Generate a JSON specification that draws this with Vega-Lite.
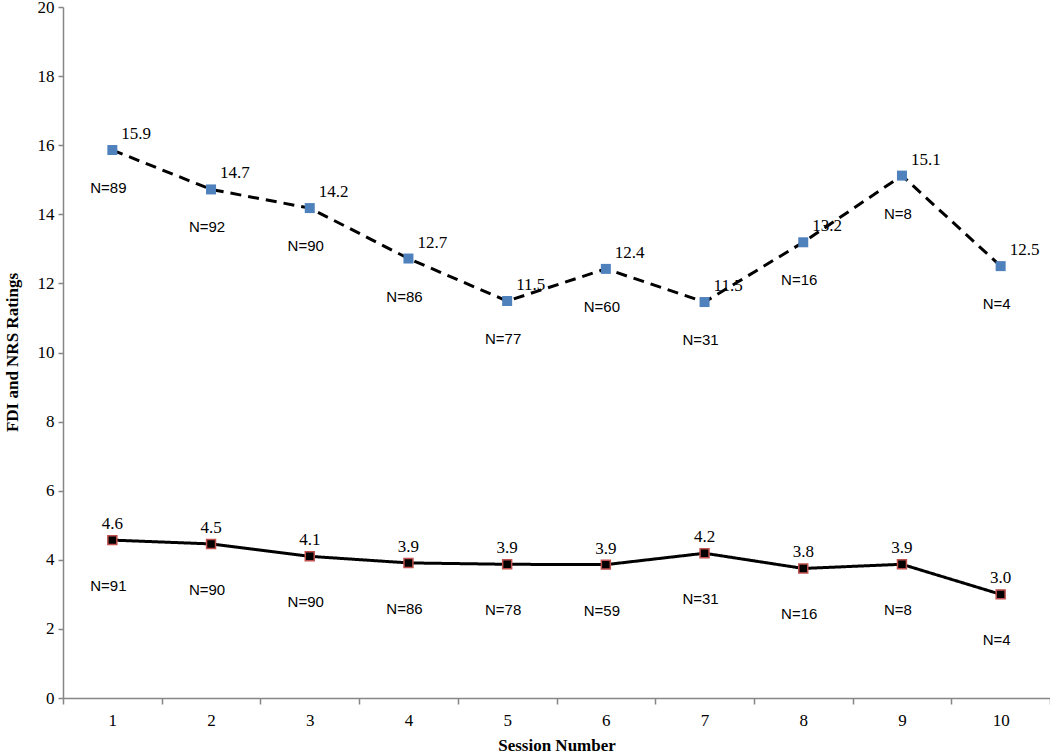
{
  "$schema": "https://vega.github.io/schema/vega-lite/v6.json",
  "autosize": "none",
  "width": 987,
  "height": 691,
  "padding": {"left": 63, "top": 7, "right": 0, "bottom": 56},
  "background": "white",
  "config": {
    "view": {"stroke": null},
    "axis": {
      "grid": false,
      "domainColor": "#868686",
      "domainWidth": 1.5,
      "tickColor": "#868686",
      "tickWidth": 1.5,
      "labelFont": "Liberation Serif",
      "labelFontSize": 17,
      "labelColor": "#000000",
      "titleFont": "Liberation Serif",
      "titleFontSize": 17,
      "titleFontWeight": "bold",
      "titleColor": "#000000"
    }
  },
  "data": {
    "values": [
      {"session": 1, "series": "FDI", "value": 15.86, "label": "15.9", "n": "N=89"},
      {"session": 2, "series": "FDI", "value": 14.72, "label": "14.7", "n": "N=92"},
      {"session": 3, "series": "FDI", "value": 14.18, "label": "14.2", "n": "N=90"},
      {"session": 4, "series": "FDI", "value": 12.72, "label": "12.7", "n": "N=86"},
      {"session": 5, "series": "FDI", "value": 11.49, "label": "11.5", "n": "N=77"},
      {"session": 6, "series": "FDI", "value": 12.42, "label": "12.4", "n": "N=60"},
      {"session": 7, "series": "FDI", "value": 11.46, "label": "11.5", "n": "N=31"},
      {"session": 8, "series": "FDI", "value": 13.19, "label": "13.2", "n": "N=16"},
      {"session": 9, "series": "FDI", "value": 15.12, "label": "15.1", "n": "N=8"},
      {"session": 10, "series": "FDI", "value": 12.5, "label": "12.5", "n": "N=4"},
      {"session": 1, "series": "NRS", "value": 4.57, "label": "4.6", "n": "N=91"},
      {"session": 2, "series": "NRS", "value": 4.46, "label": "4.5", "n": "N=90"},
      {"session": 3, "series": "NRS", "value": 4.1, "label": "4.1", "n": "N=90"},
      {"session": 4, "series": "NRS", "value": 3.91, "label": "3.9", "n": "N=86"},
      {"session": 5, "series": "NRS", "value": 3.87, "label": "3.9", "n": "N=78"},
      {"session": 6, "series": "NRS", "value": 3.86, "label": "3.9", "n": "N=59"},
      {"session": 7, "series": "NRS", "value": 4.19, "label": "4.2", "n": "N=31"},
      {"session": 8, "series": "NRS", "value": 3.75, "label": "3.8", "n": "N=16"},
      {"session": 9, "series": "NRS", "value": 3.87, "label": "3.9", "n": "N=8"},
      {"session": 10, "series": "NRS", "value": 3.0, "label": "3.0", "n": "N=4"}
    ]
  },
  "encoding": {
    "x": {
      "field": "session",
      "type": "ordinal",
      "scale": {"paddingInner": 0, "paddingOuter": 0},
      "axis": {
        "title": "Session Number",
        "labelAngle": 0,
        "tickBand": "extent",
        "tickSize": 6,
        "labelPadding": 8,
        "titleY": 47,
        "titleBaseline": "middle"
      }
    },
    "y": {
      "field": "value",
      "type": "quantitative",
      "scale": {"domain": [0, 20], "nice": false},
      "axis": {
        "title": "FDI and NRS Ratings",
        "values": [0, 2, 4, 6, 8, 10, 12, 14, 16, 18, 20],
        "tickSize": 5,
        "labelPadding": 4,
        "titleX": -51,
        "titleY": 345,
        "titleAngle": -90,
        "titleAlign": "center",
        "titleBaseline": "middle"
      }
    }
  },
  "layer": [
    {
      "mark": {"type": "line", "color": "#000000", "strokeWidth": 3},
      "encoding": {
        "detail": {"field": "series"},
        "strokeDash": {
          "field": "series",
          "type": "nominal",
          "scale": {"domain": ["FDI", "NRS"], "range": [[11, 7], [1, 0]]},
          "legend": null
        }
      }
    },
    {
      "transform": [{"filter": "datum.series === 'FDI'"}],
      "mark": {"type": "square", "size": 100, "filled": true, "color": "#4F81BD", "opacity": 1}
    },
    {
      "transform": [{"filter": "datum.series === 'NRS'"}],
      "mark": {"type": "square", "size": 80, "filled": true, "fill": "#000000", "stroke": "#C0504D", "strokeWidth": 1.5, "opacity": 1}
    },
    {
      "transform": [{"filter": "datum.series === 'FDI'"}],
      "mark": {"type": "text", "font": "Liberation Serif", "fontSize": 17, "align": "left", "baseline": "middle", "dx": 9, "dy": -16, "color": "#000000"},
      "encoding": {"text": {"field": "label"}}
    },
    {
      "transform": [{"filter": "datum.series === 'NRS'"}],
      "mark": {"type": "text", "font": "Liberation Serif", "fontSize": 17, "align": "center", "baseline": "middle", "dy": -16, "color": "#000000"},
      "encoding": {"text": {"field": "label"}}
    },
    {
      "transform": [{"filter": "datum.series === 'FDI'"}],
      "mark": {"type": "text", "font": "Liberation Sans", "fontSize": 15, "align": "center", "baseline": "middle", "dx": -4, "dy": 38, "color": "#000000"},
      "encoding": {"text": {"field": "n"}}
    },
    {
      "transform": [{"filter": "datum.series === 'NRS'"}],
      "mark": {"type": "text", "font": "Liberation Sans", "fontSize": 15, "align": "center", "baseline": "middle", "dx": -4, "dy": 46, "color": "#000000"},
      "encoding": {"text": {"field": "n"}}
    }
  ]
}
